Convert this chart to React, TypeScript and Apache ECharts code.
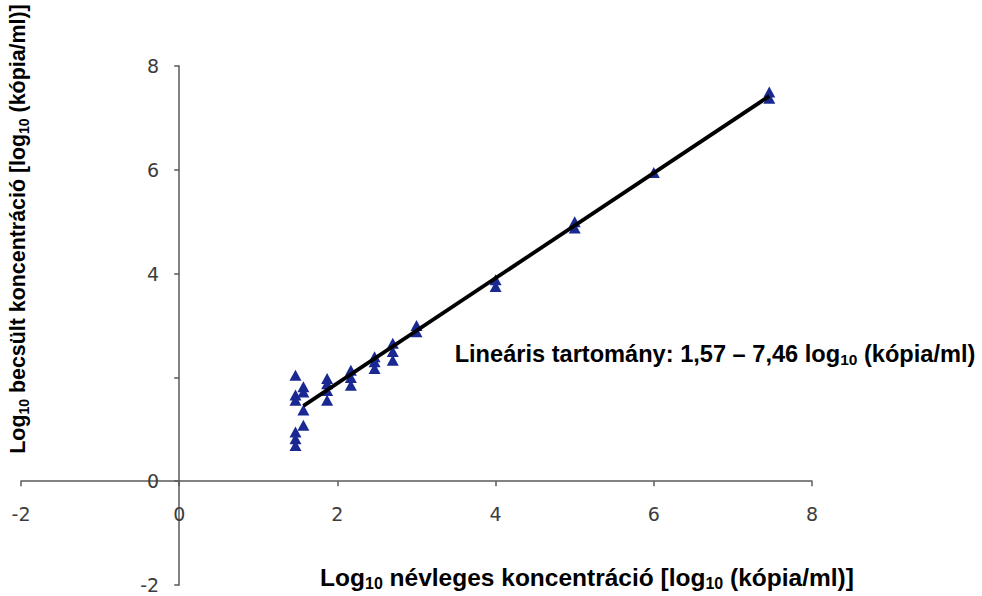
import React, { useEffect, useRef } from "react";
import * as echarts from "echarts";

// Measured points: [nominal log10, estimated log10]
const nominal147: number[] = [2.04, 1.66, 1.56, 0.95, 0.82, 0.69];
const nominal157: number[] = [1.82, 1.72, 1.37, 1.08];
const nominal187: number[] = [1.98, 1.88, 1.75, 1.56];
const nominal217: number[] = [2.14, 2.0, 1.85];
const nominal247: number[] = [2.4, 2.3, 2.17];
const nominal270: number[] = [2.66, 2.5, 2.33];
const nominal300: number[] = [3.0, 2.88];
const nominal400: number[] = [3.88, 3.75];
const nominal500: number[] = [5.0, 4.88];
const nominal600: number[] = [5.95];
const nominal746: number[] = [7.5, 7.38];

const groups: [number, number[]][] = [
  [1.47, nominal147],
  [1.57, nominal157],
  [1.87, nominal187],
  [2.17, nominal217],
  [2.47, nominal247],
  [2.7, nominal270],
  [3.0, nominal300],
  [4.0, nominal400],
  [5.0, nominal500],
  [6.0, nominal600],
  [7.46, nominal746],
];

const fitStart: [number, number] = [1.57, 1.45];
const fitEnd: [number, number] = [7.46, 7.42];

const axisMin = -2;
const axisMax = 8;
const axisStep = 2;
const hiddenYLabels: number[] = [2];

const xTitle = ["Log", "10", " névleges koncentráció [log", "10", " (kópia/ml)]"];
const yTitle = ["Log", "10", " becsült koncentráció [log", "10", " (kópia/ml)]"];
const rangeText = ["Lineáris tartomány: 1,57 – 7,46 log", "10", " (kópia/ml)"];

function richText(parts: string[]): string {
  return parts.map((p, i) => (i % 2 === 1 ? `{s|${p}}` : `{b|${p}}`)).join("");
}

function richStyles(size: number, sub: number) {
  return {
    b: {
      fontSize: size,
      fontWeight: "bold",
      fontFamily: "Liberation Sans, Arial, sans-serif",
      fill: "#000",
      lineHeight: size + 4,
    },
    s: {
      fontSize: sub,
      fontWeight: "bold",
      fontFamily: "Liberation Sans, Arial, sans-serif",
      fill: "#000",
      verticalAlign: "bottom",
      lineHeight: sub + 1,
    },
  };
}

const W = 982;
const H = 596;
const GRID = { left: 21, right: 170, top: 66, bottom: 11 };

export default function App() {
  const ref = useRef<HTMLDivElement>(null);

  useEffect(() => {
    document.body.style.margin = "0";
    if (!ref.current) return;
    const chart = echarts.init(ref.current, undefined, { renderer: "svg" });

    const points: [number, number][] = [];
    groups.forEach(([x, ys]) => ys.forEach((y) => points.push([x, y])));

    const gw = W - GRID.left - GRID.right;
    const gh = H - GRID.top - GRID.bottom;
    const span = axisMax - axisMin;
    // shift each axis onto the other axis's zero
    const xOffset = -((0 - axisMin) / span) * gh;
    const yOffset = -((0 - axisMin) / span) * gw;

    const axisLineStyle = { color: "#5a5a5a", width: 1.5 };
    const labelStyle = {
      color: "#3c3c3c",
      fontSize: 19,
      fontFamily: "DejaVu Sans, sans-serif",
    };

    chart.setOption({
      animation: false,
      backgroundColor: "#ffffff",
      grid: {
        ...GRID,
        containLabel: false,
        outerBoundsMode: "none",
      },
      xAxis: {
        type: "value",
        position: "bottom",
        offset: xOffset,
        min: axisMin,
        max: axisMax,
        interval: axisStep,
        axisLine: { show: true, onZero: false, lineStyle: axisLineStyle },
        axisTick: { show: true, length: 5, lineStyle: axisLineStyle },
        axisLabel: { ...labelStyle, margin: 23 },
        splitLine: { show: false },
      },
      yAxis: {
        type: "value",
        position: "left",
        offset: yOffset,
        min: axisMin,
        max: axisMax,
        interval: axisStep,
        axisLine: { show: true, onZero: false, lineStyle: axisLineStyle },
        axisTick: { show: true, length: 5, lineStyle: axisLineStyle },
        axisLabel: {
          ...labelStyle,
          margin: 20,
          formatter: (v: number) => (hiddenYLabels.includes(v) ? "" : String(v)),
        },
        splitLine: { show: false },
      },
      series: [
        {
          type: "line",
          data: [fitStart, fitEnd],
          symbol: "none",
          lineStyle: { color: "#000", width: 3.8 },
          z: 3,
        },
        {
          type: "scatter",
          data: points,
          symbol: "triangle",
          symbolSize: [12, 11],
          itemStyle: { color: "#1a2891", opacity: 1 },
          z: 2,
        },
      ],
      graphic: [
        {
          type: "text",
          x: 587,
          y: 577,
          style: {
            text: richText(xTitle),
            rich: richStyles(24.5, 16),
            align: "center",
            verticalAlign: "middle",
          },
        },
        {
          type: "text",
          x: 18,
          y: 229,
          rotation: Math.PI / 2,
          style: {
            text: richText(yTitle),
            rich: richStyles(21.4, 14),
            align: "center",
            verticalAlign: "middle",
          },
        },
        {
          type: "text",
          x: 715,
          y: 354,
          style: {
            text: richText(rangeText),
            rich: richStyles(23.6, 15.5),
            align: "center",
            verticalAlign: "middle",
          },
        },
      ],
    });

    return () => chart.dispose();
  }, []);

  return <div ref={ref} style={{ width: W, height: H }} />;
}
